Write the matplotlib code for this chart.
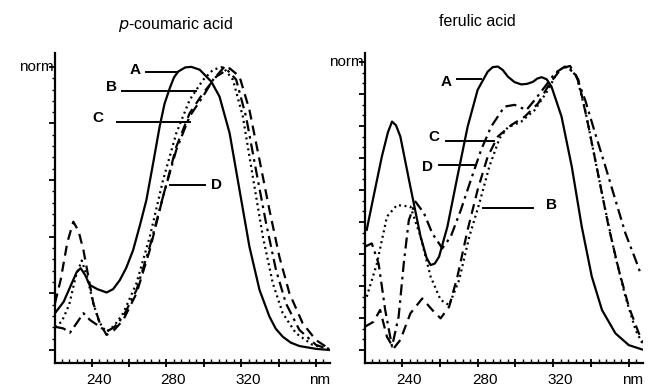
"""Normalised UV spectra of p-coumaric and ferulic acid (curves A-D)."""

import matplotlib

matplotlib.use("Agg")
import matplotlib.pyplot as plt
import matplotlib.transforms as mtransforms
import numpy as np

plt.rcParams["font.family"] = ["Liberation Sans", "DejaVu Sans"]
plt.rcParams["font.size"] = 11

# ---- p-coumaric acid (left panel) ----
pc_a_nm = [220.4, 225, 229, 232, 234.1, 236.5, 238.9, 243, 248, 251.5, 255.1, 258.5, 262.2, 265.8, 269.3,
           272.9, 276.4, 279, 281.8, 284, 286.2, 290, 293.3, 297.8, 304, 308.4, 313.8, 319.1, 324.4, 329.8,
           335.1, 338.5, 342.2, 346.5, 351.1, 360, 367.1]
pc_a_y = [0.13, 0.17, 0.23, 0.275, 0.289, 0.265, 0.23, 0.215, 0.203, 0.215, 0.247, 0.29, 0.353, 0.44, 0.53,
          0.66, 0.79, 0.87, 0.925, 0.962, 0.983, 0.998, 1.0, 0.99, 0.948, 0.895, 0.766, 0.565, 0.365, 0.212,
          0.118, 0.075, 0.047, 0.026, 0.014, 0.004, 0.0]

pc_b_nm = [220.4, 224, 228, 231.5, 234.7, 237.5, 240.9, 244, 246.2, 248, 252, 256.9, 264, 271.1, 278.2,
           285.3, 292.4, 299.6, 305, 310.2, 315.6, 320.9, 326.2, 331.6, 336.9, 342.2, 349.3, 358.2, 367.1]
pc_b_y = [0.082, 0.10, 0.16, 0.26, 0.316, 0.26, 0.165, 0.10, 0.077, 0.065, 0.085, 0.13, 0.236, 0.40, 0.60,
          0.766, 0.883, 0.954, 0.99, 1.0, 0.954, 0.824, 0.612, 0.40, 0.236, 0.13, 0.059, 0.018, 0.004]

pc_c_nm = [220.4, 223.5, 227, 230.2, 233, 235.6, 238.5, 240.9, 244.4, 248, 252, 256.9, 264, 271.1, 278.2,
           285.3, 292.4, 299.6, 306.7, 313.8, 319.1, 324.4, 329.8, 335.1, 340.4, 345.8, 352.9, 360, 367.1]
pc_c_y = [0.165, 0.25, 0.38, 0.453, 0.42, 0.353, 0.25, 0.165, 0.094, 0.053, 0.07, 0.106, 0.20, 0.353, 0.542,
          0.718, 0.836, 0.907, 0.966, 0.995, 0.966, 0.848, 0.671, 0.495, 0.33, 0.20, 0.094, 0.035, 0.004]

pc_d_nm = [220.4, 224.9, 228.4, 232, 235.6, 239.1, 244.4, 248, 252, 256.9, 264, 271.1, 278.2, 285.3,
           292.4, 299.6, 305, 311, 317.3, 322.6, 327.9, 333.3, 338.6, 343.9, 351.1, 360, 367.1]
pc_d_y = [0.082, 0.076, 0.061, 0.095, 0.13, 0.106, 0.082, 0.065, 0.08, 0.118, 0.212, 0.365, 0.542, 0.707,
          0.825, 0.896, 0.955, 1.0, 0.955, 0.824, 0.636, 0.448, 0.283, 0.165, 0.071, 0.018, 0.002]

# ---- ferulic acid (right panel) ----
fa_a_nm = [221.3, 224.9, 229.3, 232.5, 234.7, 236.8, 239.1, 244.4, 249.8, 253, 255.1, 257.3, 259.6, 264,
           269.3, 274.7, 280, 285.3, 288, 290.7, 293.3, 296, 299.5, 303.1, 306.2, 309.3, 311.5, 313.8, 316.5,
           319.1, 324.4, 329.8, 335.1, 340.4, 345.8, 352.9, 360, 368]
fa_a_y = [0.417, 0.532, 0.671, 0.755, 0.793, 0.78, 0.741, 0.567, 0.394, 0.32, 0.295, 0.3, 0.324, 0.428,
          0.602, 0.775, 0.903, 0.966, 0.982, 0.984, 0.972, 0.949, 0.93, 0.922, 0.924, 0.931, 0.942, 0.947,
          0.94, 0.914, 0.81, 0.637, 0.428, 0.255, 0.139, 0.058, 0.017, 0.0]

fa_b_nm = [221.3, 226.7, 232, 237.3, 244.4, 249.8, 255.1, 260.4, 264.9, 270.2, 275.6, 280.9, 286.2, 291.6,
           296, 303.1, 310.2, 317.3, 322.7, 328, 332.4, 336.9, 342.2, 347.6, 352.9, 358.2, 363.6, 368]
fa_b_y = [0.185, 0.30, 0.463, 0.503, 0.498, 0.394, 0.255, 0.174, 0.156, 0.243, 0.394, 0.509, 0.637, 0.735,
          0.773, 0.793, 0.833, 0.903, 0.972, 0.984, 0.949, 0.833, 0.66, 0.486, 0.324, 0.185, 0.069, 0.012]

fa_c_nm = [220.4, 224.9, 228.4, 232, 235.6, 239.1, 244.4, 250.7, 256, 260.4, 264.9, 269.3, 274.7, 280, 285.3,
           290.7, 297.8, 304.9, 312, 318.2, 324.4, 328.9, 333.3, 338.7, 344, 349.3, 354.7, 360, 365.3, 368]
fa_c_y = [0.081, 0.098, 0.139, 0.046, 0.006, 0.035, 0.127, 0.179, 0.139, 0.11, 0.15, 0.255, 0.417, 0.556,
          0.671, 0.741, 0.781, 0.81, 0.856, 0.926, 0.978, 0.986, 0.938, 0.775, 0.602, 0.428, 0.278, 0.15,
          0.058, 0.023]

fa_d_nm = [220.4, 224, 227.6, 231.1, 234.7, 238.2, 240.9, 243.6, 247.1, 251.6, 256, 261.3, 265.8, 271.1,
           276.4, 281.8, 287.1, 294.2, 299.6, 305.8, 310.2, 315.6, 320.9, 326.2, 331.6, 336.9, 342.2, 347.6,
           352.9, 358.2, 363.6, 366.2]
fa_d_y = [0.359, 0.37, 0.30, 0.139, 0.012, 0.116, 0.30, 0.451, 0.515, 0.475, 0.405, 0.353, 0.394, 0.486,
          0.59, 0.694, 0.775, 0.845, 0.851, 0.833, 0.868, 0.914, 0.961, 0.984, 0.961, 0.868, 0.752, 0.637,
          0.521, 0.405, 0.313, 0.266]

# ---- curve labels: (letter, text x, text y, line x0, line x1, line y) ----
pc_labels = [("A", 263.1, 0.989, 269.3, 286.2, 0.983),
             ("B", 250.7, 0.930, 256.0, 296.0, 0.916),
             ("C", 243.5, 0.819, 253.3, 292.4, 0.807),
             ("D", 306.7, 0.583, 281.8, 300.4, 0.583)]
fa_labels = [("A", 263.1, 0.932, 269.3, 281.8, 0.940),
             ("C", 256.9, 0.741, 263.1, 288.9, 0.727),
             ("D", 253.3, 0.636, 259.5, 279.1, 0.642),
             ("B", 319.1, 0.503, 282.7, 309.3, 0.492)]

STYLES = {
    "A": dict(color="black", lw=1.6, ls="-"),
    "B": dict(color="black", lw=1.6, ls=(0, (0.9, 1.6))),
    "C": dict(color="black", lw=1.6, ls=(0, (4.5, 2.8))),
    "D": dict(color="black", lw=1.6, ls=(0, (5, 2.2, 1.2, 2.2))),
}

W, H = 654, 387
fig = plt.figure(figsize=(W / 100, H / 100), dpi=100)


def style_axes(ax, ylim, major_y, minor_y):
    ax.set_xlim(220.4, 367.5)
    ax.set_ylim(*ylim)
    for side in ("top", "right"):
        ax.spines[side].set_visible(False)
    for side in ("left", "bottom"):
        ax.spines[side].set_linewidth(1.6)
    ax.set_xticks(np.arange(240, 361, 20))
    ax.set_xticklabels(["240", "", "280", "", "320", "", ""])
    ax.set_xticks(np.arange(224, 367, 4), minor=True)
    ax.set_yticks(major_y)
    ax.set_yticklabels([""] * len(major_y))
    ax.set_yticks(minor_y, minor=True)
    ax.tick_params(axis="x", which="major", direction="inout", length=6, width=1.3, pad=4)
    ax.tick_params(axis="x", which="minor", direction="in", length=3, width=1.0)
    ax.tick_params(axis="y", which="major", direction="out", length=4, width=1.3)
    ax.tick_params(axis="y", which="minor", direction="out", length=2.5, width=1.0)
    shift = mtransforms.ScaledTranslation(7 / 100, 0, fig.dpi_scale_trans)
    for lab in ax.get_xticklabels():
        lab.set_transform(lab.get_transform() + shift)
    ax.annotate("nm", xy=(1.0, 0.0), xycoords="axes fraction", xytext=(0, -7),
                textcoords="offset points", ha="right", va="top", fontsize=11)
    ax.text(-0.005, 1.0, "norm", transform=ax.get_yaxis_transform(), ha="right", va="center",
            fontsize=11)


def draw_panel(ax, curves, labels):
    for key, nm, yv in curves:
        ax.plot(nm, yv, **STYLES[key])
    for letter, tx, ty, x0, x1, ly in labels:
        ax.plot([x0, x1], [ly, ly], color="black", lw=1.4)
        ax.text(tx, ty, letter, ha="center", va="center", fontsize=11, fontweight="bold")


ax1 = fig.add_axes([55 / W, 1 - 363 / H, 275 / W, 310 / H])
style_axes(ax1, (-0.046, 1.049), np.arange(0, 1.01, 0.2), np.arange(0, 1.04, 0.04))
draw_panel(ax1, [("A", pc_a_nm, pc_a_y), ("B", pc_b_nm, pc_b_y),
                 ("C", pc_c_nm, pc_c_y), ("D", pc_d_nm, pc_d_y)], pc_labels)

ax2 = fig.add_axes([365 / W, 1 - 363 / H, 278 / W, 310 / H])
style_axes(ax2, (-0.045, 1.031), np.linspace(0, 1, 10), np.linspace(0, 1.0, 28))
draw_panel(ax2, [("A", fa_a_nm, fa_a_y), ("B", fa_b_nm, fa_b_y),
                 ("C", fa_c_nm, fa_c_y), ("D", fa_d_nm, fa_d_y)], fa_labels)

fig.text(176 / W, 1 - 25 / H, "$\\it{p}$-coumaric acid", ha="center", va="center", fontsize=11.5)
fig.text(477 / W, 1 - 22 / H, "ferulic acid", ha="center", va="center", fontsize=11.5)

fig.savefig("out.png", dpi=100)
